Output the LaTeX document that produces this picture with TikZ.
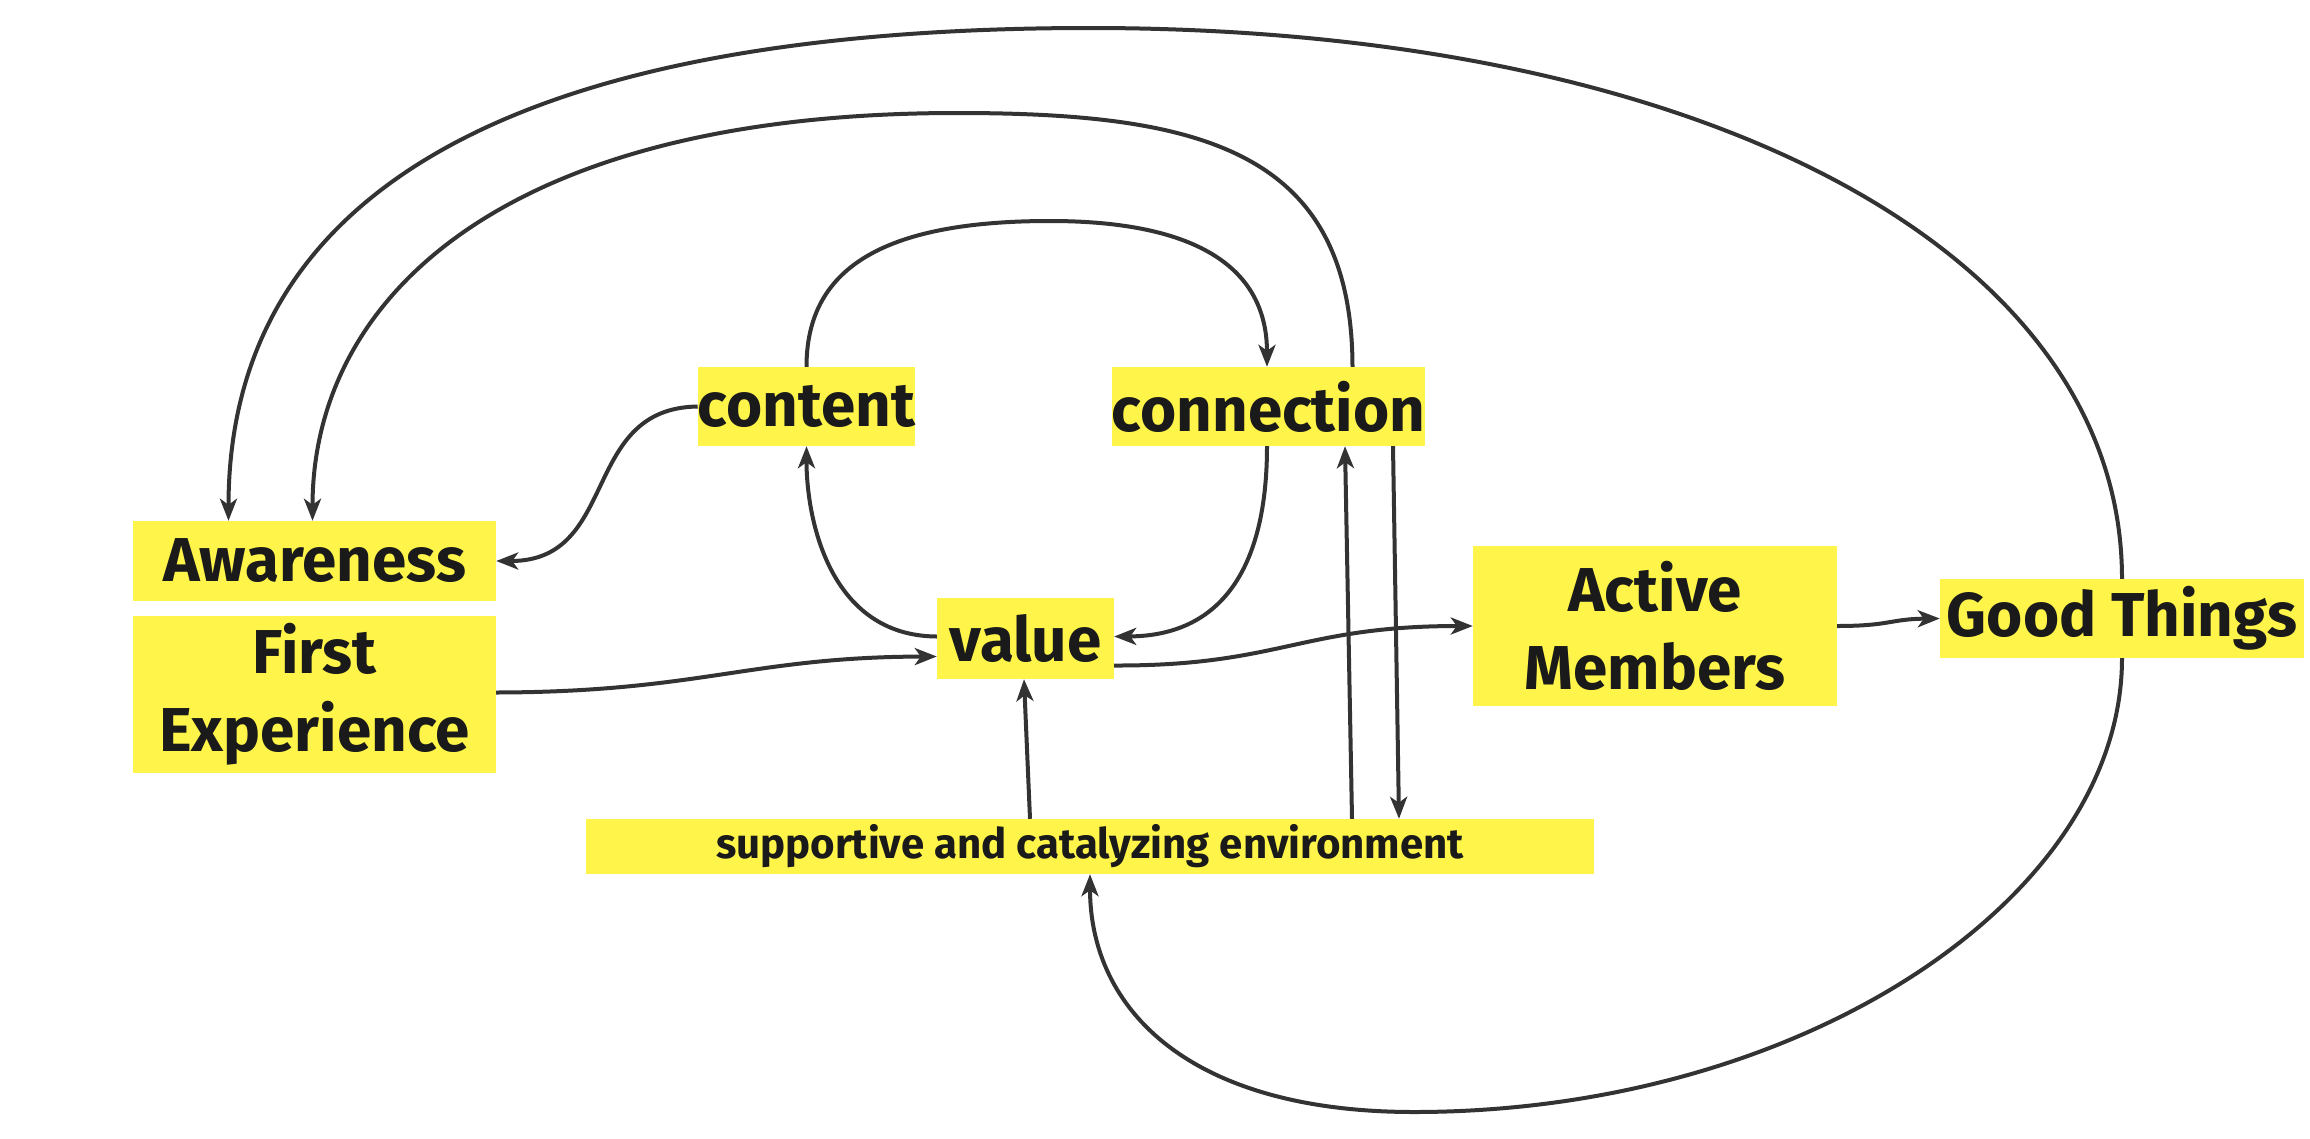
\documentclass[tikz,border=0pt]{standalone}
\usepackage{fontspec}
\setmainfont{Fira Sans}
\usetikzlibrary{arrows.meta,calc}
\definecolor{boxyellow}{RGB}{255,245,74}
\definecolor{ink}{RGB}{26,26,26}
\definecolor{wire}{RGB}{51,51,51}
\tikzset{
  box/.style={fill=boxyellow,draw=none,inner sep=0pt,align=center,text=ink,font=\fontsize{62}{78}\selectfont\bfseries},
  small/.style={font=\fontsize{42}{48}\selectfont\bfseries},
  conn/.style={draw=wire,line width=4pt,-{Stealth[length=22pt,width=17pt,inset=6pt]}},
}
\begin{document}
\begin{tikzpicture}[x=1pt,y=-1pt]
\useasboundingbox (0,0) rectangle (2310,1138);
\node[box,minimum width=363pt,minimum height=80pt] (aw) at (314.5,561) {Awareness};
\node[box,minimum width=363pt,minimum height=157pt] (fe) at (314.5,694.5) {First\\Experience};
\node[box,minimum width=217pt,minimum height=79pt] (ct) at (806.5,406.5) {content};
\node[box,minimum width=309pt,minimum height=79pt] (cn) at (1268.5,406.5) {connection};
\node[box,minimum width=177pt,minimum height=81pt] (va) at (1025.5,638.5) {value};
\node[box,minimum width=364pt,minimum height=160pt] (am) at (1655,626) {Active\\Members};
\node[box,minimum width=364pt,minimum height=79pt] (gt) at (2122,618.5) {Good Things};
\node[box,small,minimum width=1008pt,minimum height=55pt] (env) at (1090,846.5) {supportive and catalyzing environment};

% outer loop: Good Things -> Awareness
\coordinate (topA) at (1090,28);
\draw[conn] (gt.north) .. controls (2122,250) and (1700,28) .. (topA)
  .. controls (500,28) and ($(aw.north)+(-86,-321)$) .. ($(aw.north)+(-86,0)$);
% connection -> Awareness
\coordinate (topB) at (957,113);
\draw[conn] ($(cn.north)+(84,0)$) .. controls (1352,150) and (1200,113) .. (topB)
  .. controls (500,113) and ($(aw.north)+(-2,-221)$) .. ($(aw.north)+(-2,0)$);
% content -> connection
\coordinate (topC) at (1050,221);
\draw[conn] (ct.north) .. controls (806.5,270) and (880,221) .. (topC)
  .. controls (1200,221) and ($(cn.north)+(-1.5,-97)$) .. ($(cn.north)+(-1.5,0)$);
% content -> Awareness
\draw[conn] (ct.west) .. controls (580,408) and (620,561) .. (aw.east);
% value -> content
\draw[conn] ($(va.west)+(0,-2)$) .. controls (830,636) and (806.5,520) .. (ct.south);
% connection -> value
\draw[conn] ($(cn.south)+(-1.5,0)$) .. controls (1267,570) and (1220,636) .. ($(va.east)+(0,-2)$);
% First Experience -> value
\draw[conn] ($(fe.east)+(0,-2)$) .. controls (700,692) and (750,657) .. ($(va.west)+(0,18)$);
% value -> Active Members
\draw[conn] ($(va.east)+(0,27)$) .. controls (1280,666) and (1300,626) .. (am.west);
% Active Members -> Good Things
\draw[conn] (am.east) .. controls (1890,626) and (1890,619) .. (gt.west);
% env -> value
\draw[conn] ($(env.north)+(-60,0)$) -- ($(va.south)+(-1.5,0)$);
% env -> connection
\draw[conn] ($(env.north)+(262,0)$) -- ($(cn.south)+(76.5,0)$);
% connection -> env
\draw[conn] ($(cn.south)+(124.5,0)$) -- ($(env.north)+(309,0)$);
% Good Things -> env
\coordinate (botA) at (1414,1112);
\draw[conn] (gt.south) .. controls (2122,900) and (1800,1112) .. (botA)
  .. controls (1190,1112) and (1090,1010) .. (env.south);
\end{tikzpicture}
\end{document}
